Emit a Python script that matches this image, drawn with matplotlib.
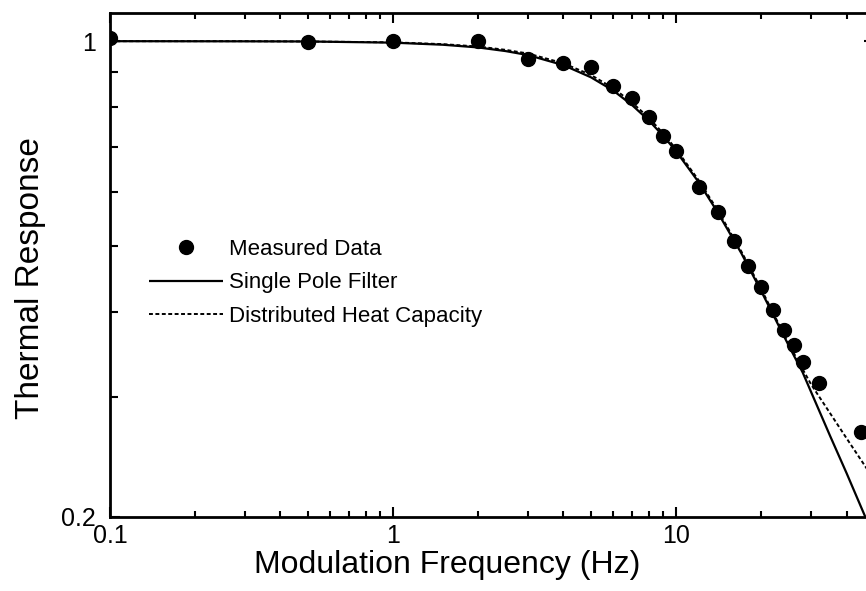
import numpy as np
import matplotlib
matplotlib.use("Agg")
import matplotlib.pyplot as plt
from matplotlib.ticker import LogLocator, FixedLocator, NullFormatter, FixedFormatter

plt.rcParams['font.family'] = ['Liberation Sans', 'DejaVu Sans']

# measured points
freq_meas = [0.1, 0.5, 1, 2, 3, 4, 5, 6, 7, 8, 9, 10, 12, 14, 16, 18, 20, 22, 24, 26, 28, 32, 45]
resp_meas = [1.01, 0.996, 1.0, 1.0, 0.943, 0.928, 0.915, 0.858, 0.824, 0.773, 0.725, 0.689,
             0.610, 0.561, 0.508, 0.467, 0.435, 0.403, 0.376, 0.358, 0.338, 0.315, 0.267]

# single pole filter curve
freq_pole = [0.1, 0.3, 0.5, 1, 1.5, 2, 2.5, 3, 4, 5, 6, 7, 8, 9, 10, 12, 14, 17, 20, 25, 28, 30, 35, 40, 46.6]
resp_pole = [1.0, 0.9995, 0.999, 0.995, 0.988, 0.979, 0.967, 0.954, 0.922, 0.885, 0.846, 0.805,
             0.765, 0.726, 0.689, 0.621, 0.561, 0.488, 0.429, 0.357, 0.326, 0.305, 0.263, 0.232, 0.200]

# distributed heat capacity curve
freq_dist = [0.1, 0.3, 0.5, 1, 1.5, 2, 2.5, 3, 4, 5, 6, 7, 8, 9, 10, 12, 14, 17, 20, 25, 30, 35, 40, 47, 50]
resp_dist = [1.0, 1.0, 0.999, 0.996, 0.990, 0.982, 0.971, 0.959, 0.928, 0.892, 0.853, 0.812,
             0.772, 0.732, 0.694, 0.625, 0.565, 0.491, 0.432, 0.359, 0.313, 0.284, 0.261, 0.236, 0.228]

fig = plt.figure(figsize=(8.66, 5.91), dpi=100)
# right edge of the axes runs slightly past the figure, as in the scan
ax = fig.add_axes([110/866, 74/591, 764/866, 504/591])

ax.plot(freq_pole, resp_pole, color="black", lw=1.6, solid_capstyle="butt",
        label="Single Pole Filter")
ax.plot(freq_dist, resp_dist, color="black", lw=1.4, linestyle=(0, (2.0, 1.3)),
        label="Distributed Heat Capacity")
ax.plot(freq_meas, resp_meas, "o", color="black", ms=10, label="Measured Data", zorder=5)

ax.set_xscale("log")
ax.set_yscale("log")
ax.set_xlim(0.1, 50)
ax.set_ylim(0.2, 1.1)

ax.xaxis.set_major_locator(FixedLocator([0.1, 1, 10]))
ax.xaxis.set_major_formatter(FixedFormatter(["0.1", "1", "10"]))
ax.xaxis.set_minor_locator(LogLocator(base=10, subs=np.arange(2, 10)))
ax.xaxis.set_minor_formatter(NullFormatter())

ax.yaxis.set_major_locator(FixedLocator([0.2, 1]))
ax.yaxis.set_major_formatter(FixedFormatter(["0.2", "1"]))
ax.yaxis.set_minor_locator(FixedLocator([0.3, 0.4, 0.5, 0.6, 0.7, 0.8, 0.9]))
ax.yaxis.set_minor_formatter(NullFormatter())

ax.tick_params(which="both", direction="in", top=True, right=True, width=1.5,
               labelsize=18, colors="black")
ax.tick_params(axis="x", which="major", length=7, pad=5)
ax.tick_params(axis="x", which="minor", length=4)
ax.tick_params(axis="y", which="major", length=7, pad=10)
ax.tick_params(axis="y", which="minor", length=6)

for sp in ax.spines.values():
    sp.set_linewidth(2)

ax.set_xlabel("Modulation Frequency (Hz)", fontsize=23)
ax.xaxis.set_label_coords(337/764, -33/504)
ax.set_ylabel("Thermal Response", fontsize=24)
ax.yaxis.set_label_coords(-64/764, 239/504)

handles, labels = ax.get_legend_handles_labels()
order = [2, 0, 1]
ax.legend([handles[i] for i in order], [labels[i] for i in order],
          loc="upper left", bbox_to_anchor=(0.04, 0.569), frameon=False,
          fontsize=16, handlelength=3.3, handletextpad=0.3, labelspacing=0.55,
          borderaxespad=0)

fig.savefig("out.png", dpi=100)
